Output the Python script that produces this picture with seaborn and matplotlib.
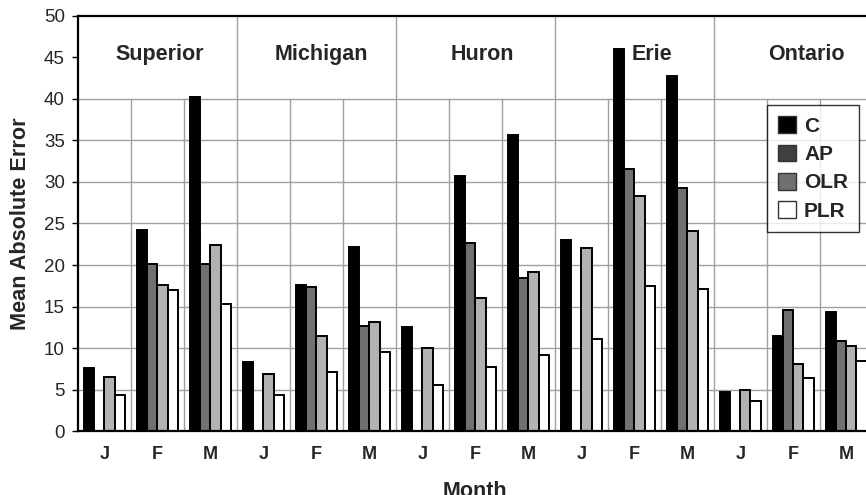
import numpy as np
import pandas as pd
import matplotlib
matplotlib.use('Agg')
import matplotlib.pyplot as plt
from matplotlib.patches import Patch
import seaborn as sns

# Data
lakes = ["Superior", "Michigan", "Huron", "Erie", "Ontario"]
months = ["J", "F", "M"]
methods = ["C", "AP", "OLR", "PLR"]

# one value per lake/month, in the order of lakes x months (J has no AP value)
c_vals = [7.6, 24.2, 40.2, 8.3, 17.6, 22.2, 12.5, 30.7, 35.7, 23.0, 46.0, 42.7, 4.7, 11.4, 14.4]
ap_vals = [np.nan, 20.1, 20.1, np.nan, 17.3, 12.7, np.nan, 22.7, 18.4, np.nan, 31.6, 29.3, np.nan, 14.6, 10.8]
olr_vals = [6.5, 17.6, 22.4, 6.9, 11.5, 13.1, 10.0, 16.0, 19.1, 22.0, 28.3, 24.1, 5.0, 8.1, 10.2]
plr_vals = [4.3, 17.0, 15.3, 4.3, 7.1, 9.5, 5.6, 7.7, 9.2, 11.1, 17.5, 17.1, 3.6, 6.4, 8.4]

# lake titles are not exactly centred over their groups in the original
lake_label_x = [1.04, 4.10, 7.14, 10.33, 13.25]

bar_colors = ["#000000", "#707070", "#b2b2b2", "#ffffff"]
legend_colors = ["#000000", "#404040", "#707070", "#ffffff"]

slots = [f"{lake}-{m}" for lake in lakes for m in months]
frames = []
for name, vals in zip(methods, [c_vals, ap_vals, olr_vals, plr_vals]):
    frames.append(pd.DataFrame({"slot": slots, "method": name, "mae": vals}))
df = pd.concat(frames, ignore_index=True)

sns.set_style("white")
plt.rcParams['font.family'] = ['Liberation Sans', 'DejaVu Sans']

fig = plt.figure(figsize=(8.66, 4.95), dpi=100)
ax = fig.add_axes([0.090, 0.129, 0.918, 0.839])

n = len(slots)
grid_c = "#a0a0a0"
# grid: horizontal lines only up to 40, month dividers up to 40, lake dividers full height
ax.hlines(np.arange(5, 45, 5), -0.5, n - 0.5, colors=grid_c, lw=1, zorder=0)
for i in range(n - 1):
    top = 50 if (i + 1) % 3 == 0 else 40
    ax.vlines(i + 0.5, 0, top, colors=grid_c, lw=1, zorder=0)

sns.barplot(data=df, x="slot", y="mae", hue="method", order=slots, hue_order=methods,
            palette=bar_colors, width=0.76, gap=0, edgecolor="black", linewidth=1.4,
            saturation=1, legend=False, ax=ax, zorder=2)

ax.set_xlim(-0.5, n - 0.5)
ax.set_ylim(0, 50)
ax.set_yticks(np.arange(0, 55, 5))
ax.tick_params(axis='y', labelsize=13.5, left=True, length=4.5, width=1, color="black", pad=5)
ax.set_xticks(range(n))
ax.set_xticklabels(months * len(lakes), fontweight="bold", fontsize=13)
ax.tick_params(axis='x', bottom=False, pad=7.5)

for lx, lake in zip(lake_label_x, lakes):
    ax.text(lx, 45.4, lake, ha="center", va="center", fontsize=15.5, fontweight="bold")

for side in ["left", "bottom", "top"]:
    ax.spines[side].set_color("black")
    ax.spines[side].set_linewidth(1.6)
ax.spines["right"].set_visible(False)

ax.set_ylabel("Mean Absolute Error", fontsize=15.6, fontweight="bold", labelpad=9)
ax.set_xlabel("Month", fontsize=15.5, fontweight="bold", labelpad=13)

handles = [Patch(facecolor=c, edgecolor="#333333", lw=1) for c in legend_colors]
leg = ax.legend(handles, methods, loc="upper left", bbox_to_anchor=(0.8667, 0.7855),
                borderaxespad=0, frameon=True, fancybox=False, shadow=False, borderpad=0.55,
                handlelength=0.85, handleheight=0.85, handletextpad=0.38, labelspacing=0.42,
                prop={"weight": "bold", "size": 15})
leg.get_frame().set_edgecolor("black")
leg.get_frame().set_linewidth(1)

plt.savefig("out.png", dpi=100)
plt.close()
